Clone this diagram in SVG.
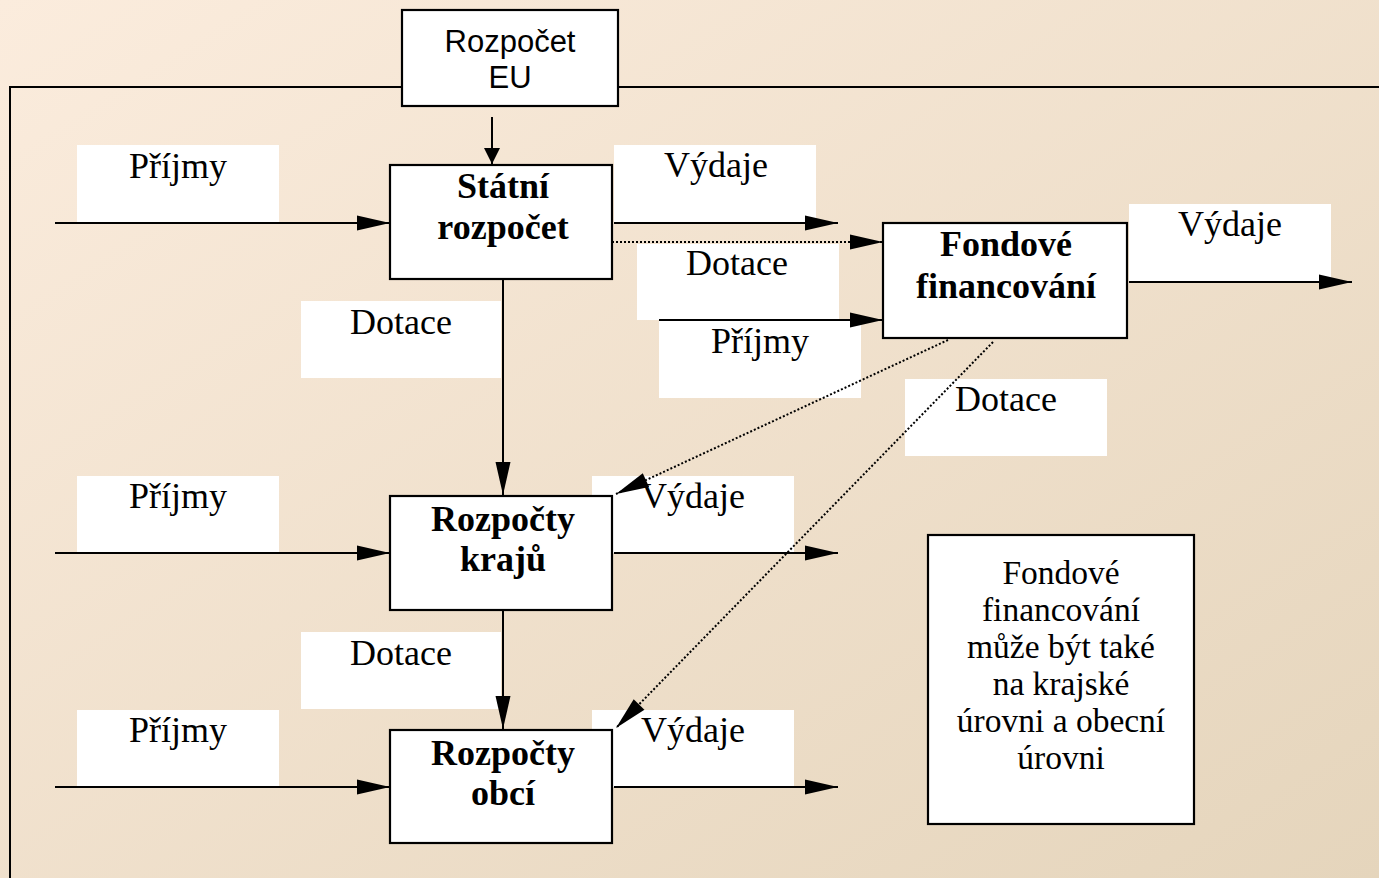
<svg xmlns="http://www.w3.org/2000/svg" width="1379" height="878" viewBox="0 0 1379 878">
<defs>
<linearGradient id="bg" x1="0" y1="0" x2="1" y2="1">
<stop offset="0" stop-color="#FBECDD"/>
<stop offset="1" stop-color="#E5D5BC"/>
</linearGradient>
<marker id="ah" markerUnits="userSpaceOnUse" markerWidth="34" markerHeight="16" refX="33" refY="7.5" orient="auto" overflow="visible">
<path d="M0,0 L33,7.5 L0,15 z" fill="#000"/>
</marker>
<marker id="ahs" markerUnits="userSpaceOnUse" markerWidth="17" markerHeight="17" refX="16" refY="8" orient="auto" overflow="visible">
<path d="M0,0 L16,8 L0,16 z" fill="#000"/>
</marker>
<style>
.node{fill:#fff;stroke:#000;stroke-width:2.2}
.lab{fill:#fff}
.t{font-family:"Liberation Serif","Times New Roman",serif;font-size:36px;fill:#000;text-anchor:middle}
.b{font-weight:bold}
.s{font-family:"Liberation Sans",Arial,sans-serif;font-size:31px;fill:#000;text-anchor:middle}
.n{font-family:"Liberation Serif","Times New Roman",serif;font-size:33.5px;fill:#000;text-anchor:middle}
.ln{fill:none;stroke:#000;stroke-width:2}
.dot{fill:none;stroke:#000;stroke-width:2;stroke-dasharray:2 2}
</style>
</defs>
<rect width="1379" height="878" fill="url(#bg)"/>
<g id="frame">
<path class="ln" d="M10,878 L10,87 L1379,87"/>
</g>
<g id="labels">
<g id="lab-prijmy1"><rect class="lab" x="77" y="145" width="202" height="77"/><text class="t" x="178" y="178">Příjmy</text></g>
<g id="lab-vydaje1"><rect class="lab" x="614" y="145" width="202" height="77"/><text class="t" x="716" y="177">Výdaje</text></g>
<g id="lab-dotace1"><rect class="lab" x="637" y="244" width="202" height="76"/><text class="t" x="737" y="275">Dotace</text></g>
<g id="lab-prijmy-f"><rect class="lab" x="659" y="321" width="202" height="77"/><text class="t" x="760" y="353">Příjmy</text></g>
<g id="lab-vydaje-f"><rect class="lab" x="1129" y="204" width="202" height="77"/><text class="t" x="1230" y="236">Výdaje</text></g>
<g id="lab-dotace2"><rect class="lab" x="301" y="301" width="200" height="77"/><text class="t" x="401" y="334">Dotace</text></g>
<g id="lab-dotace3"><rect class="lab" x="905" y="379" width="202" height="77"/><text class="t" x="1006" y="411">Dotace</text></g>
<g id="lab-prijmy2"><rect class="lab" x="77" y="476" width="202" height="77"/><text class="t" x="178" y="508">Příjmy</text></g>
<g id="lab-vydaje2"><rect class="lab" x="592" y="476" width="202" height="77"/><text class="t" x="693" y="508">Výdaje</text></g>
<g id="lab-dotace4"><rect class="lab" x="301" y="632" width="200" height="77"/><text class="t" x="401" y="665">Dotace</text></g>
<g id="lab-prijmy3"><rect class="lab" x="77" y="710" width="202" height="77"/><text class="t" x="178" y="742">Příjmy</text></g>
<g id="lab-vydaje3"><rect class="lab" x="592" y="710" width="202" height="77"/><text class="t" x="693" y="742">Výdaje</text></g>
</g>
<g id="connectors">
<line class="ln" x1="492" y1="117" x2="492" y2="164" marker-end="url(#ahs)"/>
<line class="ln" x1="55" y1="223" x2="390" y2="223" marker-end="url(#ah)"/>
<line class="ln" x1="614" y1="223" x2="838" y2="223" marker-end="url(#ah)"/>
<line class="dot" x1="612" y1="242" x2="883" y2="242" marker-end="url(#ah)"/>
<line class="ln" x1="659" y1="320" x2="883" y2="320" marker-end="url(#ah)"/>
<line class="ln" x1="1129" y1="282" x2="1352" y2="282" marker-end="url(#ah)"/>
<line class="ln" x1="503" y1="280" x2="503" y2="495" marker-end="url(#ah)"/>
<line class="ln" x1="503" y1="611" x2="503" y2="729" marker-end="url(#ah)"/>
<line class="ln" x1="55" y1="553" x2="390" y2="553" marker-end="url(#ah)"/>
<line class="ln" x1="614" y1="553" x2="838" y2="553" marker-end="url(#ah)"/>
<line class="ln" x1="55" y1="787" x2="390" y2="787" marker-end="url(#ah)"/>
<line class="ln" x1="614" y1="787" x2="838" y2="787" marker-end="url(#ah)"/>
<line class="dot" x1="948" y1="340" x2="616" y2="494" marker-end="url(#ah)"/>
<line class="dot" x1="993" y1="342" x2="616" y2="728" marker-end="url(#ah)"/>
</g>
<g id="node-eu"><rect class="node" x="402" y="10" width="216" height="96"/><text class="s" x="510" y="52">Rozpočet</text><text class="s" x="510" y="88">EU</text></g>
<g id="node-statni"><rect class="node" x="390" y="165" width="222" height="114"/><text class="t b" x="503" y="198">Státní</text><text class="t b" x="503" y="239">rozpočet</text></g>
<g id="node-fondove"><rect class="node" x="883" y="223" width="244" height="115"/><text class="t b" x="1006" y="256">Fondové</text><text class="t b" x="1006" y="298">financování</text></g>
<g id="node-kraje"><rect class="node" x="390" y="496" width="222" height="114"/><text class="t b" x="503" y="531">Rozpočty</text><text class="t b" x="503" y="571">krajů</text></g>
<g id="node-obce"><rect class="node" x="390" y="730" width="222" height="113"/><text class="t b" x="503" y="765">Rozpočty</text><text class="t b" x="503" y="805">obcí</text></g>
<g id="node-note"><rect class="node" x="928" y="535" width="266" height="289"/>
<text class="n" x="1061" y="584">Fondové</text>
<text class="n" x="1061" y="621">financování</text>
<text class="n" x="1061" y="658">může být také</text>
<text class="n" x="1061" y="695">na krajské</text>
<text class="n" x="1061" y="732">úrovni a obecní</text>
<text class="n" x="1061" y="769">úrovni</text>
</g>
</svg>
